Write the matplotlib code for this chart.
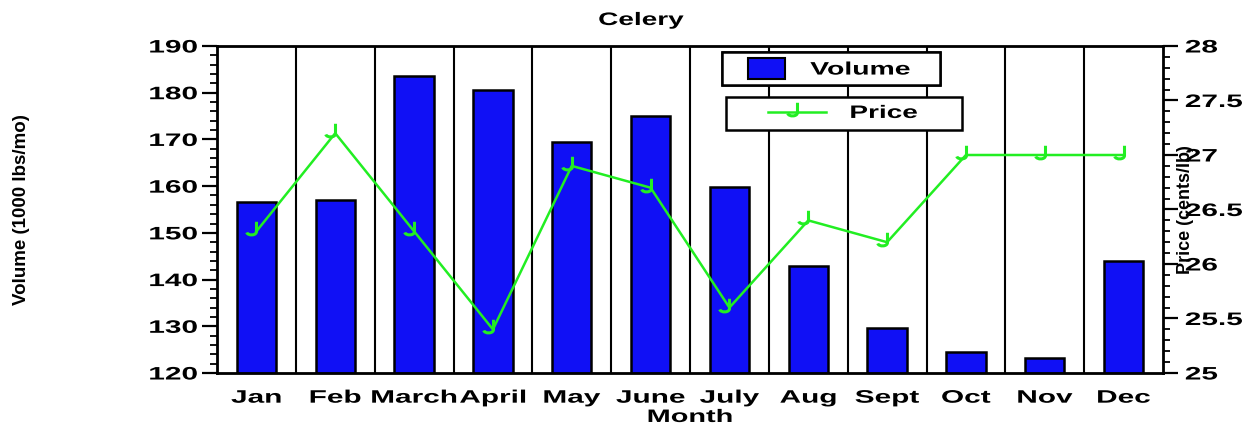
import matplotlib.pyplot as plt
from matplotlib.patches import Patch
from matplotlib.lines import Line2D
from matplotlib.path import Path
from matplotlib.patheffects import AbstractPathEffect
from matplotlib.transforms import Affine2D
from matplotlib.legend_handler import HandlerPatch, HandlerLine2D

months = ['Jan', 'Feb', 'March', 'April', 'May', 'June', 'July', 'Aug', 'Sept', 'Oct', 'Nov', 'Dec']
volume = [156.7, 157.0, 183.5, 180.5, 169.5, 175.0, 159.8, 143.0, 129.7, 124.5, 123.2, 144.0]
price = [26.3, 27.2, 26.3, 25.4, 26.9, 26.7, 25.6, 26.4, 26.2, 27.0, 27.0, 27.0]

plt.rcParams['font.family'] = ['Liberation Sans', 'DejaVu Sans']
plt.rcParams['font.weight'] = 'bold'

BLUE = '#1010f5'
GREEN = '#22ee22'


class Stretch(AbstractPathEffect):
    """widen text glyphs horizontally (the original uses a very wide bold face)"""
    def __init__(self, sx=1.6, anchor='center'):
        super().__init__()
        self.sx = sx
        self.anchor = anchor

    def draw_path(self, renderer, gc, tpath, affine, rgbFace=None):
        ext = tpath.get_extents()
        if self.anchor == 'left':
            a = ext.x0
        elif self.anchor == 'right':
            a = ext.x1
        else:
            a = (ext.x0 + ext.x1) / 2
        t = Affine2D().translate(-a, 0).scale(self.sx, 1).translate(a, 0) + affine
        renderer.draw_path(gc, tpath, t, rgbFace)


# hook-shaped marker like the original
hook = Path([(0, 1.0), (0, 0), (0, -0.45), (-0.9, -0.45), (-1.0, -0.1)],
            [Path.MOVETO, Path.LINETO, Path.CURVE4, Path.CURVE4, Path.CURVE4])

fig = plt.figure(figsize=(12.44, 4.33), dpi=100)
ax = fig.add_axes([217/1244, 1 - 373/433, (1163 - 217)/1244, (373 - 46)/433])
x = list(range(len(months)))

for i in range(len(months) - 1):
    ax.axvline(i + 0.5, color='black', lw=1.5, zorder=1)
ax.bar(x, volume, width=0.5, color=BLUE, edgecolor='black', linewidth=1.8, zorder=2)
ax.set_xlim(-0.5, 11.5)
ax.set_ylim(120, 190)
ax.set_yticks(range(120, 191, 10))
ax.set_yticks(range(120, 191, 2), minor=True)
ax.set_xticks(x)
ax.set_xticklabels(months, fontsize=13, fontweight='bold')
ax.tick_params(axis='x', length=0, pad=12)
ax.tick_params(axis='y', which='major', length=11, width=1.6, labelsize=13, pad=3, direction='out')
ax.tick_params(axis='y', which='minor', length=5, width=1.3, direction='out')
for sp in ax.spines.values():
    sp.set_linewidth(2)
for lab in ax.get_xticklabels():
    lab.set_path_effects([Stretch(1.65, 'center')])
for lab in ax.get_yticklabels():
    lab.set_fontweight('bold')
    lab.set_path_effects([Stretch(1.65, 'right')])

ax.set_xlabel('Month', fontsize=13, fontweight='bold')
ax.xaxis.set_label_coords(0.5, -0.11)
ax.xaxis.label.set_path_effects([Stretch(1.6)])
ttl = fig.text(641/1244, 1 - 25/433, 'Celery', fontsize=13, fontweight='bold', ha='center', va='baseline')
ttl.set_path_effects([Stretch(1.55)])
fig.text(22/1244, 1 - 210/433, 'Volume (1000 lbs/mo)', rotation=90, fontsize=13.5, fontweight='bold',
         ha='center', va='center')

ax2 = ax.twinx()
ax2.plot(x, price, color=GREEN, lw=1.8, marker=hook, markersize=14,
         markerfacecolor='none', markeredgecolor=GREEN, markeredgewidth=2.2, zorder=3)
ax2.set_ylim(25, 28)
ax2.set_yticks([25, 25.5, 26, 26.5, 27, 27.5, 28])
ax2.set_yticklabels(['25', '25.5', '26', '26.5', '27', '27.5', '28'])
ax2.set_yticks([25 + 0.1 * k for k in range(31)], minor=True)
ax2.tick_params(axis='y', which='major', length=11, width=1.6, labelsize=13, pad=5, direction='out')
ax2.tick_params(axis='y', which='minor', length=5, width=1.3, direction='out')
for lab in ax2.get_yticklabels():
    lab.set_fontweight('bold')
    lab.set_path_effects([Stretch(1.65, 'left')])
fig.text(1186/1244, 1 - 210/433, 'Price (cents/lb)', rotation=90, fontsize=13, fontweight='bold',
         ha='center', va='center')

h1 = Patch(facecolor=BLUE, edgecolor='black', linewidth=1.5)
leg1 = fig.legend([h1], ['Volume'], loc='upper left', mode='expand',
                  bbox_to_anchor=(722/1244, 1 - 89/433, 218/1244, 37/433),
                  handler_map={h1: HandlerPatch(xpad=1.08)},
                  fancybox=False, framealpha=1, edgecolor='black', prop={'weight': 'bold', 'size': 13},
                  handlelength=3.14, handleheight=1.33, borderpad=0.36, handletextpad=1.39,
                  borderaxespad=0)
leg1.get_frame().set_linewidth(1.8)
leg1.get_texts()[0].set_path_effects([Stretch(1.57, 'left')])

h2 = Line2D([], [], color=GREEN, lw=1.8, marker=hook, markersize=14, markerfacecolor='none',
            markeredgewidth=2.2)
leg2 = fig.legend([h2], ['Price'], loc='upper left', mode='expand',
                  bbox_to_anchor=(726/1244, 1 - 131/433, 236/1244, 34/433),
                  handler_map={h2: HandlerLine2D(xpad=1.89)},
                  fancybox=False, framealpha=1, edgecolor='black', prop={'weight': 'bold', 'size': 13},
                  handlelength=5.1, borderpad=0.44, handletextpad=1.33, borderaxespad=0)
leg2.get_frame().set_linewidth(1.8)
leg2.get_texts()[0].set_path_effects([Stretch(1.55, 'left')])
fig.add_artist(leg1)

fig.savefig('out.png', dpi=100)
